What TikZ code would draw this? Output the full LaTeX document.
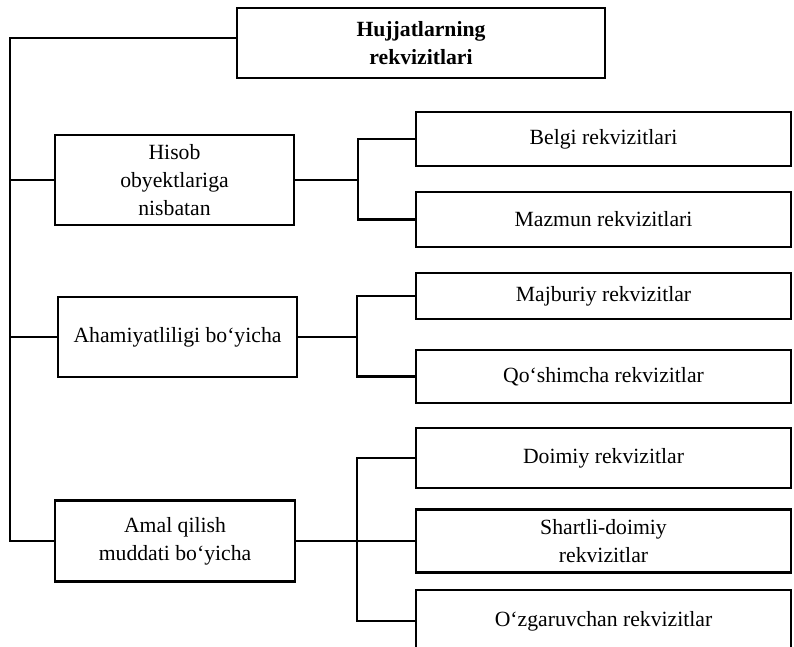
\documentclass[tikz,border=0pt]{standalone}
\usepackage{fontspec}
\setmainfont{Liberation Serif}
\begin{document}
\begin{tikzpicture}[x=1pt,y=-1pt,
  box/.style={draw,line width=2.2pt,rectangle,inner sep=2pt,align=center,
    font=\fontsize{21.7}{28}\selectfont},
  conn/.style={line width=2.2pt}]
\useasboundingbox (0,0) rectangle (794,646);
\clip (0,0) rectangle (794,646);
\fill[white] (0,0) rectangle (794,646);
% main nodes
\node[box,minimum width=368pt,minimum height=70pt,font=\fontsize{21.7}{28}\selectfont\bfseries] (top) at (421,43) {Hujjatlarning\\rekvizitlari};
\node[box,minimum width=239pt,minimum height=90pt] (hisob) at (174.5,180) {Hisob\\obyektlariga\\nisbatan};
\node[box,minimum width=239pt,minimum height=80pt] (aham) at (177.5,337) {Ahamiyatliligi bo‘yicha};
\node[box,minimum width=240pt,minimum height=81pt] (amal) at (175,541) {Amal qilish\\muddati bo‘yicha};
% right nodes
\node[box,minimum width=375pt,minimum height=54pt] (belgi) at (603.5,139) {Belgi rekvizitlari};
\node[box,minimum width=375pt,minimum height=55pt] (mazmun) at (603.5,219.5) {Mazmun rekvizitlari};
\node[box,minimum width=375pt,minimum height=46pt] (majb) at (603.5,296) {Majburiy rekvizitlar};
\node[box,minimum width=375pt,minimum height=53pt] (qosh) at (603.5,376.5) {Qo‘shimcha rekvizitlar};
\node[box,minimum width=375pt,minimum height=60pt] (doim) at (603.5,458) {Doimiy rekvizitlar};
\node[box,minimum width=375pt,minimum height=63pt] (shart) at (603.5,541) {Shartli-doimiy\\rekvizitlar};
\node[box,minimum width=375pt,minimum height=62pt] (ozg) at (603.5,621) {O‘zgaruvchan rekvizitlar};
% trunk
\coordinate (t0) at (10,38);
\draw[conn] (top.west |- t0) -- (t0) |- (amal.west);
\draw[conn] (t0 |- hisob.west) -- (hisob.west);
\draw[conn] (t0 |- aham.west) -- (aham.west);
% branches
\coordinate (b1) at (358,180);
\coordinate (b2) at (357,337);
\coordinate (b3) at (357,541);
\draw[conn] (hisob.east) -- (b1);
\draw[conn] (belgi.west) -| (b1) |- (mazmun.west);
\draw[conn] (aham.east) -- (b2);
\draw[conn] (majb.west) -| (b2) |- (qosh.west);
\draw[conn] (amal.east) -- (b3);
\draw[conn] (doim.west) -| (b3) |- (ozg.west);
\draw[conn] (b3) -- (shart.west);
\end{tikzpicture}
\end{document}
